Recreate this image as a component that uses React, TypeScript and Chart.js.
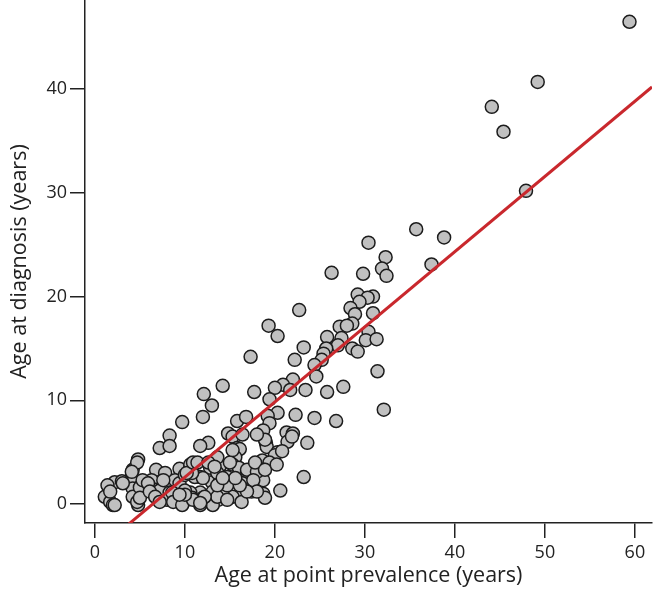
import { useEffect, useRef } from "react";
import { Chart, registerables } from "chart.js";

Chart.register(...registerables);

// Age at point prevalence (years)
const ageAtPrevalence = [
  59.4, 49.2, 44.1, 45.4, 47.9, 35.7, 38.8, 37.4, 30.4, 32.3,
  31.9, 32.4, 29.8, 26.3, 29.2, 30.9, 30.3, 29.4, 28.4, 28.9,
  30.9, 28.6, 27.2, 28.0, 22.7, 19.3, 20.3, 25.8, 27.4, 30.4,
  30.1, 31.3, 27.0, 28.6, 29.2, 23.2, 25.7, 25.4, 17.3, 22.2,
  25.2, 24.4, 31.4, 24.6, 22.0, 20.9, 20.0, 17.7, 23.4, 25.8,
  27.6, 21.7, 32.1, 14.2, 12.1, 13.0, 19.4, 12.0, 15.8, 16.8,
  20.3, 19.2, 22.3, 24.4, 26.8, 19.4, 18.7, 14.8, 15.3, 16.4,
  21.3, 22.0, 21.4, 23.6, 19.0, 19.1, 12.6, 15.8, 16.1, 20.3,
  20.0, 20.8, 18.6, 19.4, 15.6, 15.3, 13.6, 13.7, 12.8, 16.0,
  16.9, 17.8, 18.7, 11.7, 13.0, 13.9, 15.6, 16.4, 17.6, 18.7,
  23.2, 20.6, 18.7, 18.9, 17.4, 16.3, 15.3, 14.2, 13.7, 13.1,
  11.7, 12.0, 16.3, 9.7, 8.3, 7.2, 8.3, 11.7, 4.8, 4.2,
  4.1, 6.8, 7.8, 11.1, 9.4, 10.6, 2.2, 3.0, 1.4, 1.1,
  1.7, 2.0, 4.2, 4.2, 4.8, 6.3, 6.3, 7.2, 8.3, 8.0,
  9.2, 10.6, 10.8, 11.7, 13.1, 13.6, 14.7, 11.1, 12.0, 8.9,
  9.4, 5.8, 5.0, 14.7, 14.7, 13.0, 13.9, 13.6, 4.7, 3.1,
  1.7, 2.2, 4.1, 4.7, 5.0, 5.3, 5.9, 6.1, 6.7, 7.2,
  7.6, 8.6, 8.7, 10.0, 10.6, 10.8, 10.0, 10.2, 9.7, 10.2,
  10.9, 13.6, 15.0, 16.9, 18.0, 17.6, 18.0, 16.9, 12.2, 10.9,
  10.0, 9.4, 11.7, 13.6, 16.1, 15.6, 14.2, 17.8, 21.9, 18.9,
  18.0, 15.3, 11.4, 12.6, 13.3, 18.9, 20.2,
];

// Age at diagnosis (years)
const ageAtDiagnosis = [
  46.5, 40.7, 38.3, 35.9, 30.2, 26.5, 25.7, 23.1, 25.2, 23.8,
  22.7, 22.0, 22.2, 22.3, 20.2, 20.0, 19.9, 19.5, 18.9, 18.3,
  18.4, 17.4, 17.1, 17.2, 18.7, 17.2, 16.2, 16.1, 16.0, 16.6,
  15.8, 15.9, 15.3, 15.0, 14.7, 15.1, 15.0, 14.5, 14.2, 13.9,
  13.9, 13.4, 12.8, 12.3, 12.0, 11.5, 11.2, 10.8, 11.0, 10.8,
  11.3, 11.0, 9.1, 11.4, 10.6, 9.5, 10.1, 8.4, 8.0, 8.4,
  8.8, 8.5, 8.6, 8.3, 8.0, 7.8, 7.1, 6.8, 6.5, 6.7,
  6.9, 6.8, 6.0, 5.9, 5.9, 5.5, 5.9, 5.4, 5.3, 5.0,
  4.7, 5.1, 4.2, 4.0, 4.5, 3.8, 4.0, 3.5, 3.5, 3.5,
  3.1, 3.0, 3.3, 2.6, 2.1, 2.3, 2.3, 2.0, 1.8, 2.3,
  2.6, 1.3, 1.0, 0.6, 1.2, 0.9, 0.7, 0.9, 0.4, -0.1,
  1.1, 0.6, 0.2, 7.9, 6.6, 5.4, 5.6, 5.6, 4.3, 3.3,
  2.6, 3.3, 3.0, 3.9, 3.4, 3.5, 2.1, 2.2, 1.8, 0.7,
  0.2, -0.1, 1.5, 0.7, -0.1, 2.3, 1.5, 1.3, 1.1, 0.4,
  0.6, 1.1, 0.6, -0.1, 1.2, 0.7, 0.4, 2.6, 2.5, 2.3,
  2.0, 2.0, 1.6, 2.6, 1.8, 4.0, 3.7, 4.5, 4.0, 2.0,
  1.2, -0.1, 3.1, 0.2, 0.6, 2.3, 2.0, 1.2, 0.7, 0.2,
  2.3, 1.1, 0.2, 2.8, 3.8, 3.0, 1.3, 0.4, -0.1, 3.0,
  4.0, 3.0, 4.0, 3.3, 3.1, 2.3, 1.2, 1.2, 0.7, 0.4,
  0.9, 0.9, 0.1, 1.8, 1.8, 2.5, 2.5, 4.0, 6.5, 6.2,
  6.7, 5.2, 4.0, 4.0, 3.6, 3.3, 3.8,
];

const xTicks = [0, 10, 20, 30, 40, 50, 60];
const yTicks = [0, 10, 20, 30, 40];

const X_MIN = -1.1;
const X_MAX = 61.9;
const Y_MIN = -1.83;
const Y_MAX = 48.6;

// Linear fit (red line)
const FIT_SLOPE = 0.725;
const FIT_INTERCEPT = -4.66;

const INK = "#222222";

export default function App() {
  const ref = useRef<HTMLCanvasElement | null>(null);

  useEffect(() => {
    document.body.style.margin = "0";
    const canvas = ref.current;
    if (!canvas) return;
    const points = ageAtPrevalence.map((x, i) => ({ x, y: ageAtDiagnosis[i] }));
    const fit = [
      { x: X_MIN, y: FIT_SLOPE * X_MIN + FIT_INTERCEPT },
      { x: X_MAX, y: FIT_SLOPE * X_MAX + FIT_INTERCEPT },
    ];
    const chart = new Chart(canvas, {
      type: "scatter",
      data: {
        datasets: [
          {
            data: fit,
            showLine: true,
            borderColor: "#c9282d",
            borderWidth: 3,
            pointRadius: 0,
            order: 0,
          },
          {
            data: points,
            backgroundColor: "#c0c0c0",
            borderColor: "#1c1c1c",
            borderWidth: 1.5,
            pointRadius: 6.5,
            order: 1,
          },
        ],
      },
      options: {
        responsive: false,
        animation: false,
        devicePixelRatio: 1,
        layout: { autoPadding: false, padding: { top: 0, right: 2, bottom: 0, left: 0 } },
        font: { family: "'Open Sans', sans-serif" },
        plugins: { legend: { display: false }, tooltip: { enabled: false } },
        scales: {
          x: {
            type: "linear",
            min: X_MIN,
            max: X_MAX,
            afterBuildTicks: (s: any) => {
              s.ticks = xTicks.map((v) => ({ value: v }));
            },
            afterFit: (s: any) => {
              s.height = 66;
              s.paddingLeft = 0;
              s.paddingRight = 0;
            },
            grid: { drawOnChartArea: false, tickLength: 15, color: INK, lineWidth: 1.5 },
            border: { color: INK, width: 1.5 },
            ticks: {
              padding: 4,
              maxRotation: 0,
              color: INK,
              font: { family: "'Open Sans', sans-serif", size: 18 },
            },
            title: {
              display: true,
              text: "Age at point prevalence (years)",
              color: INK,
              font: { family: "'Open Sans', sans-serif", size: 21.5 },
              padding: { top: 0, bottom: 0 },
            },
          },
          y: {
            type: "linear",
            min: Y_MIN,
            max: Y_MAX,
            afterBuildTicks: (s: any) => {
              s.ticks = yTicks.map((v) => ({ value: v }));
            },
            afterFit: (s: any) => {
              s.width = 85;
              s.paddingTop = 0;
              s.paddingBottom = 0;
            },
            grid: { drawOnChartArea: false, tickLength: 15, color: INK, lineWidth: 1.5 },
            border: { color: INK, width: 1.5 },
            ticks: {
              padding: 3,
              color: INK,
              font: { family: "'Open Sans', sans-serif", size: 18 },
            },
            title: {
              display: true,
              text: "Age at diagnosis (years)",
              color: INK,
              font: { family: "'Open Sans', sans-serif", size: 21.5 },
              padding: { top: 7, bottom: 0 },
            },
          },
        },
      },
    });
    return () => chart.destroy();
  }, []);

  return (
    <div style={{ width: 654, height: 589 }}>
      <canvas ref={ref} width={654} height={589} style={{ display: "block" }} />
    </div>
  );
}
